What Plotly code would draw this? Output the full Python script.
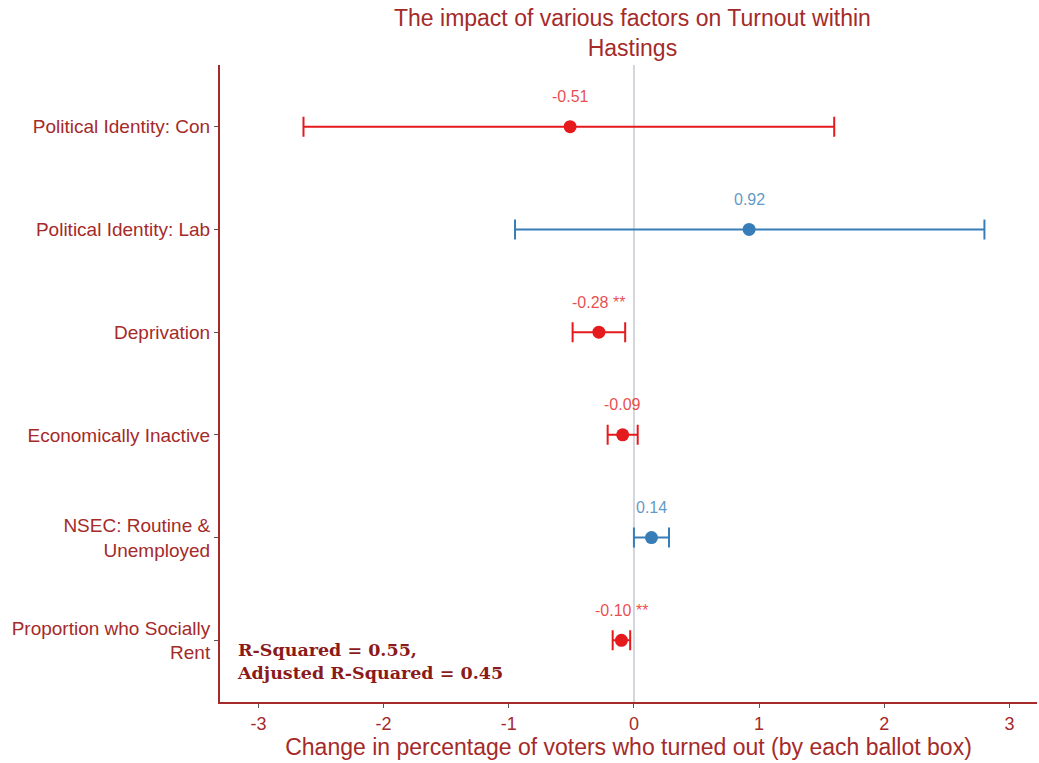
import plotly.graph_objects as go

# Regression coefficients with confidence intervals
factors = [
    "Political Identity: Con",
    "Political Identity: Lab",
    "Deprivation",
    "Economically Inactive",
    "NSEC: Routine &<br>Unemployed",
    "Proportion who Socially<br>Rent",
]
estimates = [-0.51, 0.92, -0.28, -0.09, 0.14, -0.10]
ci_low = [-2.64, -0.95, -0.49, -0.21, 0.00, -0.17]
ci_high = [1.60, 2.80, -0.07, 0.03, 0.28, -0.03]
significance = ["", "", " **", "", "", " **"]
tick_values = [-3, -2, -1, 0, 1, 2, 3]

RED = "#E41A1C"
BLUE = "#377EB8"
RED_TXT = "rgba(228,26,28,0.8)"
BLUE_TXT = "rgba(55,126,184,0.8)"
AXIS_COL = "#A52A2A"
FONT = "Liberation Sans, Arial, sans-serif"

n = len(factors)
ypos = [n - i for i in range(n)]

fig = go.Figure()

# zero reference line
fig.add_shape(type="line", xref="x", yref="paper", x0=0, x1=0, y0=0, y1=1,
              line=dict(color="#D4D6DE", width=2), layer="below")

for i in range(n):
    col = RED if estimates[i] < 0 else BLUE
    tcol = RED_TXT if estimates[i] < 0 else BLUE_TXT
    fig.add_trace(go.Scatter(
        x=[estimates[i]], y=[ypos[i]], mode="markers",
        marker=dict(color=col, size=13),
        error_x=dict(type="data", symmetric=False,
                     array=[ci_high[i] - estimates[i]],
                     arrayminus=[estimates[i] - ci_low[i]],
                     color=col, thickness=2, width=10),
        showlegend=False, hoverinfo="skip",
    ))
    fig.add_annotation(x=estimates[i], y=ypos[i], yshift=30,
                       text=f"{estimates[i]:.2f}{significance[i]}",
                       showarrow=False, font=dict(family=FONT, size=16, color=tcol))

fig.add_annotation(
    xref="paper", yref="paper", x=0.018, y=0.026, xanchor="left", yanchor="bottom",
    align="left", showarrow=False,
    text="<b>R-Squared = 0.55,<br>Adjusted R-Squared = 0.45</b>",
    font=dict(family="DejaVu Serif, serif", size=17.5, color="#8B1A1A"),
)

# Title
fig.add_annotation(
    xref="paper", yref="paper", x=0.5055, y=1.098, xanchor="center", yanchor="top",
    showarrow=False, align="center",
    text="The impact of various factors on Turnout within<br>Hastings",
    font=dict(family=FONT, size=23, color=AXIS_COL),
)

fig.update_layout(
    width=1039, height=763,
    margin=dict(l=220, r=2, t=65, b=61),
    plot_bgcolor="white", paper_bgcolor="white",
    font=dict(family=FONT),
)
fig.update_xaxes(
    range=[-3.307, 3.22], tickvals=tick_values, ticktext=[str(v) for v in tick_values],
    showgrid=False, zeroline=False, showline=True, linecolor=AXIS_COL, linewidth=2,
    ticks="outside", ticklen=4, tickcolor="#555555",
    tickfont=dict(family=FONT, size=18, color=AXIS_COL),
    title=dict(text="Change in percentage of voters who turned out (by each ballot box)",
               font=dict(family=FONT, size=23, color=AXIS_COL), standoff=6),
)
fig.update_yaxes(
    range=[0.4, 6.6], tickvals=ypos, ticktext=factors,
    showgrid=False, zeroline=False, showline=True, linecolor=AXIS_COL, linewidth=2,
    ticks="outside", ticklen=4, tickcolor="#555555",
    tickfont=dict(family=FONT, size=19, color=AXIS_COL),
)

fig.write_html("out.html")
